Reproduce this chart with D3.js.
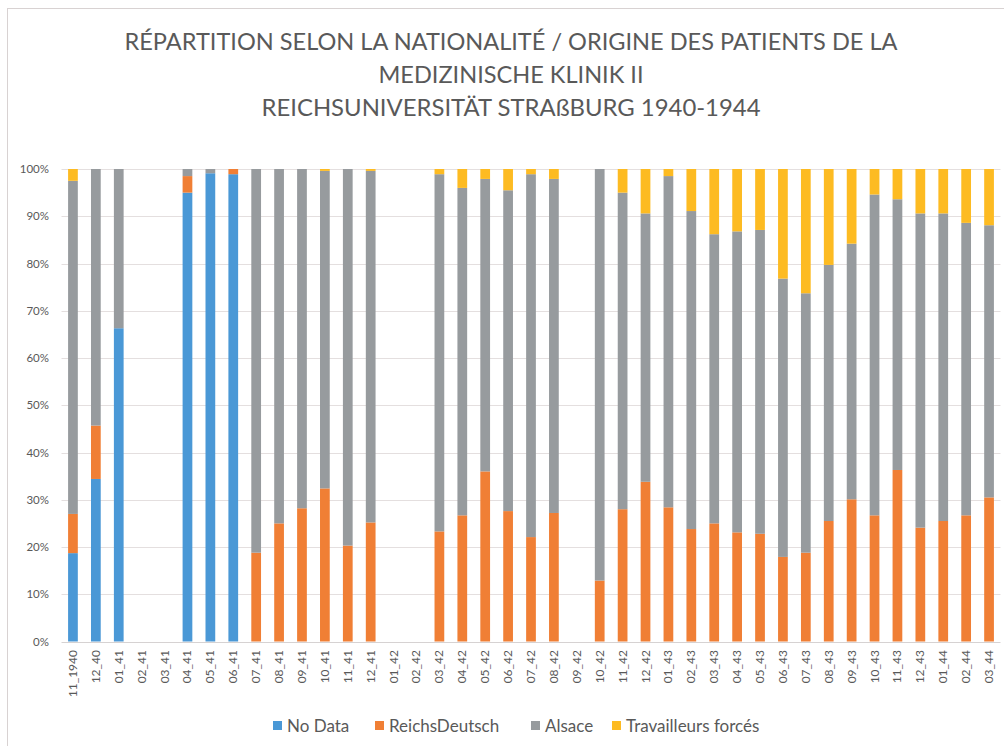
<!DOCTYPE html>
<html>
<head>
<meta charset="utf-8">
<script src="https://cdn.jsdelivr.net/npm/d3@7"></script>
<style>
  body { margin: 0; background: #fff; }
  svg { display: block; }
</style>
</head>
<body>
<div id="chart"></div>
<script>
// Months (x categories)
const months = ['11_1940','12_40','01_41','02_41','03_41','04_41','05_41','06_41','07_41','08_41',
  '09_41','10_41','11_41','12_41','01_42','02_42','03_42','04_42','05_42','06_42','07_42','08_42',
  '09_42','10_42','11_42','12_42','01_43','02_43','03_43','04_43','05_43','06_43','07_43','08_43',
  '09_43','10_43','11_43','12_43','01_44','02_44','03_44'];

// Shares in percent
const noData = [18.7,34.4,66.3,0,0,95.0,99.1,98.9,0,0, 0,0,0,0,0,0,0,0,0,0,0,0, 0,0,0,0,0,0,0,0,0,0,0,0, 0,0,0,0,0,0,0];
const reichsDeutsch = [8.3,11.3,0,0,0,3.5,0,1.1,18.8,25.0, 28.2,32.4,20.3,25.2,0,0,23.3,26.7,36.0,27.6,22.1,27.2,
  0,12.9,28.0,33.8,28.4,23.8,25.0,23.1,22.8,17.9,18.8,25.5, 30.1,26.7,36.3,24.1,25.5,26.7,30.5];
const alsace = [70.5,54.3,33.7,0,0,1.5,0.9,0,81.2,75.0, 71.8,67.2,79.7,74.4,0,0,75.6,69.3,61.9,67.9,76.8,70.7,
  0,87.1,67.0,56.8,70.1,67.3,61.2,63.7,64.3,58.9,54.9,54.2, 54.1,67.9,57.3,66.5,65.1,61.9,57.6];
const travailleurs = [2.5,0,0,0,0,0,0,0,0,0, 0,0.4,0,0.4,0,0,1.1,4.0,2.1,4.5,1.1,2.1,
  0,0,5.0,9.4,1.5,8.9,13.8,13.2,12.9,23.2,26.3,20.3, 15.8,5.4,6.4,9.4,9.4,11.4,11.9];

const seriesNames = ['No Data', 'ReichsDeutsch', 'Alsace', 'Travailleurs forcés'];
const seriesColors = ['#4a98d6', '#f07f35', '#979b9e', '#fdbb22'];
const yTicks = [0,10,20,30,40,50,60,70,80,90,100];
const titleLines = [
  'RÉPARTITION SELON LA NATIONALITÉ / ORIGINE DES PATIENTS DE LA',
  'MEDIZINISCHE KLINIK II',
  'REICHSUNIVERSITÄT STRAßBURG 1940-1944'
];

const W = 1004, H = 746;
const svg = d3.select('#chart').append('svg')
  .attr('width', W).attr('height', H);

// chart frame (only left/top visible in the crop)
svg.append('rect')
  .attr('x', 7.5).attr('y', 8.5)
  .attr('width', W + 20).attr('height', H + 20)
  .attr('fill', '#fff').attr('stroke', '#d8d2d2');

const rows = months.map((m, i) => ({
  month: m,
  'No Data': noData[i],
  'ReichsDeutsch': reichsDeutsch[i],
  'Alsace': alsace[i],
  'Travailleurs forcés': travailleurs[i]
}));

const stacked = d3.stack().keys(seriesNames)(rows);

const x = d3.scaleBand()
  .domain(months)
  .range([61.5, 1000.5])
  .paddingInner(0.575)
  .paddingOuter(0.2875);

const y = d3.scaleLinear().domain([0, 100]).range([641.5, 169]);

// gridlines
svg.append('g')
  .selectAll('line')
  .data(yTicks)
  .enter()
  .append('line')
  .attr('x1', 61.5).attr('x2', 1000.5)
  .attr('y1', d => Math.round(y(d)) + 0.5)
  .attr('y2', d => Math.round(y(d)) + 0.5)
  .style('stroke', d => d === 0 ? '#d6d2d2' : '#e4dfdf')
  .style('stroke-width', 1);

// y tick labels
svg.append('g')
  .selectAll('text')
  .data(yTicks)
  .enter()
  .append('text')
  .attr('x', 49)
  .attr('y', d => y(d) + 4)
  .attr('text-anchor', 'end')
  .attr('font-family', 'Lato, "Open Sans", sans-serif')
  .attr('font-size', '11.5px')
  .attr('fill', '#595959')
  .text(d => d + '%');

// bars
svg.append('g')
  .selectAll('g')
  .data(stacked)
  .enter()
  .append('g')
  .style('fill', (d, i) => seriesColors[i])
  .selectAll('rect')
  .data(d => d)
  .enter()
  .append('rect')
  .attr('x', d => x(d.data.month))
  .attr('width', x.bandwidth())
  .attr('y', d => y(d[1]))
  .attr('height', d => Math.max(0, y(d[0]) - y(d[1])));

// x labels (rotated)
svg.append('g')
  .selectAll('text')
  .data(months)
  .enter()
  .append('text')
  .attr('transform', d => `translate(${x(d) + x.bandwidth() / 2 + 4},650) rotate(-90)`)
  .attr('text-anchor', 'end')
  .attr('font-family', 'Lato, "Open Sans", sans-serif')
  .attr('font-size', '12px')
  .attr('fill', '#595959')
  .text(d => d);

// title
const titleWidths = [773, 265, 499];
svg.append('g')
  .selectAll('text')
  .data(titleLines)
  .enter()
  .append('text')
  .attr('x', 511)
  .attr('y', (d, i) => 50 + i * 33)
  .attr('text-anchor', 'middle')
  .attr('font-family', 'Lato, "Open Sans", sans-serif')
  .attr('font-size', '23px')
  .attr('fill', '#595959')
  .attr('textLength', (d, i) => titleWidths[i])
  .attr('lengthAdjust', 'spacingAndGlyphs')
  .text(d => d);

// legend
const legendX = [273, 375, 531, 612];
const legend = svg.append('g')
  .selectAll('g')
  .data(seriesNames)
  .enter()
  .append('g')
  .attr('transform', (d, i) => `translate(${legendX[i]},726)`);

legend.append('rect')
  .attr('x', 0).attr('y', -5)
  .attr('width', 9).attr('height', 9)
  .style('fill', (d, i) => seriesColors[i]);

legend.append('text')
  .attr('x', 14)
  .attr('y', 6)
  .attr('font-family', 'Lato, "Open Sans", sans-serif')
  .attr('font-size', '17px')
  .attr('fill', '#595959')
  .text(d => d);
</script>
</body>
</html>
